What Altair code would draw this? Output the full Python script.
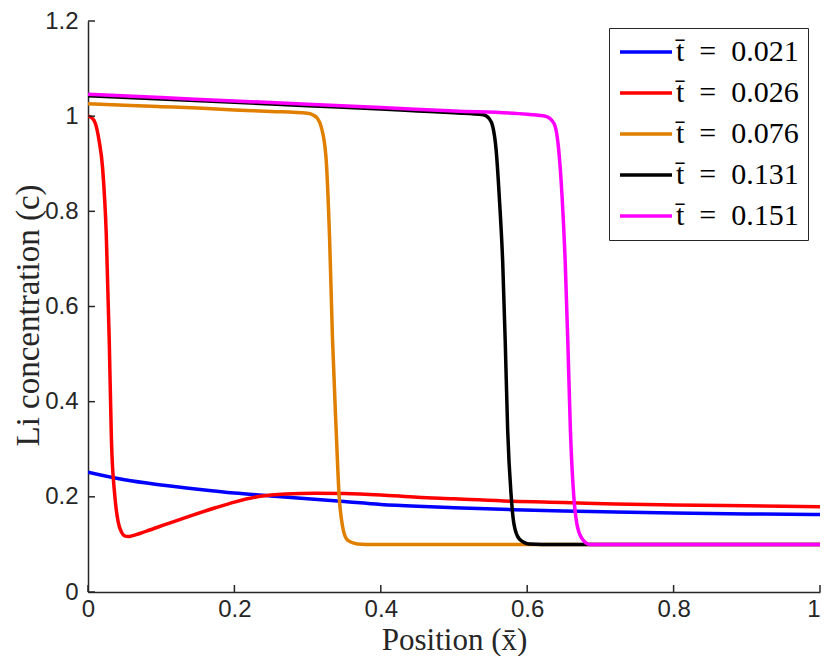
import altair as alt
import pandas as pd

# ---- data ----
labels = ["t\u0304\u2002=\u20020.021", "t\u0304\u2002=\u20020.026", "t\u0304\u2002=\u20020.076",
          "t\u0304\u2002=\u20020.131", "t\u0304\u2002=\u20020.151"]
colors = ["#0000ff", "#ff0000", "#e07f00", "#000000", "#ff00ff"]

blue_x = [0, 0.05, 0.1, 0.15, 0.2, 0.25, 0.3, 0.35, 0.4, 0.45, 0.5, 0.58, 0.65, 0.72, 0.8, 0.9, 1.0]
blue_y = [0.252, 0.236, 0.225, 0.216, 0.208, 0.202, 0.196, 0.190, 0.184, 0.180, 0.177, 0.173, 0.170, 0.168, 0.166, 0.164, 0.163]

red_x = [0, 0.005, 0.01, 0.015, 0.02, 0.025, 0.029, 0.032, 0.0365, 0.041, 0.046, 0.05, 0.055, 0.06,
         0.08, 0.106, 0.14, 0.174, 0.2, 0.233, 0.27, 0.31, 0.35, 0.4, 0.45, 0.5, 0.58, 0.65, 0.72, 0.8, 0.9, 1.0]
red_y = [1.0, 0.997, 0.985, 0.95, 0.89, 0.75, 0.53, 0.32, 0.204, 0.149, 0.125, 0.118, 0.1165, 0.118,
         0.128, 0.142, 0.16, 0.177, 0.189, 0.2005, 0.206, 0.2075, 0.207, 0.204, 0.199, 0.196, 0.1905, 0.188, 0.185, 0.183, 0.181, 0.179]

orange_x = [0, 0.05, 0.1, 0.15, 0.2, 0.25, 0.3, 0.308, 0.313, 0.3185, 0.325, 0.33, 0.334, 0.339, 0.343,
            0.348, 0.353, 0.359, 0.368, 0.38, 0.45, 0.6, 0.8, 1.0]
orange_y = [1.026, 1.023, 1.020, 1.017, 1.013, 1.010, 1.006, 1.002, 0.996, 0.978, 0.916, 0.745, 0.533, 0.341, 0.204,
            0.136, 0.112, 0.105, 0.101, 0.1, 0.1, 0.1, 0.1, 0.1]

black_x = [0, 0.1, 0.2, 0.3, 0.4, 0.45, 0.5, 0.54, 0.548, 0.553, 0.5575, 0.562, 0.5666, 0.570, 0.5733,
           0.578, 0.582, 0.589, 0.6026, 0.62, 0.8, 1.0]
black_y = [1.043, 1.036, 1.029, 1.022, 1.015, 1.011, 1.007, 1.003, 0.995, 0.978, 0.930, 0.827, 0.690, 0.526, 0.341,
           0.204, 0.142, 0.112, 0.101, 0.1, 0.1, 0.1]

magenta_x = [0, 0.1, 0.2, 0.3, 0.4, 0.5, 0.6, 0.625, 0.6365, 0.643, 0.6478, 0.652, 0.6555, 0.659, 0.6635,
             0.668, 0.675, 0.686, 0.7, 0.8, 1.0]
magenta_y = [1.046, 1.039, 1.032, 1.025, 1.018, 1.011, 1.004, 1.0, 0.985, 0.930, 0.827, 0.690, 0.526, 0.341, 0.204,
             0.142, 0.112, 0.1, 0.1, 0.1, 0.1]

x_ticks = [0, 0.2, 0.4, 0.6, 0.8, 1.0]
y_ticks = [0, 0.2, 0.4, 0.6, 0.8, 1.0, 1.2]

series = [(blue_x, blue_y), (red_x, red_y), (orange_x, orange_y), (black_x, black_y), (magenta_x, magenta_y)]
rows = []
for i, (xs, ys) in enumerate(series):
    for j, (xv, yv) in enumerate(zip(xs, ys)):
        rows.append({"x": xv, "c": yv, "series": labels[i], "order": i, "idx": j})
df = pd.DataFrame(rows)

W, H = 732, 571
AXC = "#262626"

xscale = alt.Scale(domain=[0, 1], nice=False, zero=False)
yscale = alt.Scale(domain=[0, 1.2], nice=False, zero=False)

lines = alt.Chart(df).mark_line(strokeWidth=3.5, interpolate="monotone", clip=True).encode(
    x=alt.X("x:Q", scale=xscale,
            axis=alt.Axis(values=x_ticks, format="~g", title="Position (x\u0304)", grid=False,
                          ticks=False, labelFlush=False, labelPadding=5,
                          labelAlign={"condition": {"test": "datum.value == 1", "value": "right"},
                                      "value": "center"},
                          titleY=57, titleBaseline="alphabetic", titleFontSize=31)),
    y=alt.Y("c:Q", scale=yscale,
            axis=alt.Axis(values=y_ticks, format="~g", title="Li concentration (c)", grid=False,
                          ticks=False, labelFlush=False, labelPadding=10, titleX=-50, titleY=294,
                          titleBaseline="alphabetic", titleFontSize=33)),
    color=alt.Color("series:N", sort=labels,
                    scale=alt.Scale(domain=labels, range=colors),
                    legend=alt.Legend(orient="none", legendX=521, legendY=7, title=None,
                                      symbolType="M-1,0H3", symbolSize=676, symbolStrokeWidth=3.5,
                                      labelFont="Liberation Serif", labelFontSize=30, labelColor="black",
                                      fillColor="white", strokeColor=AXC, padding=9, rowPadding=11,
                                      labelOffset=28)),
    detail="order:O",
    order="idx:Q",
)

xt = alt.Chart(pd.DataFrame({"v": x_ticks})).mark_rule(color=AXC, strokeWidth=1.5).encode(
    x=alt.X("v:Q", scale=xscale), y=alt.value(H), y2=alt.value(H - 7))
yt = alt.Chart(pd.DataFrame({"v": y_ticks})).mark_rule(color=AXC, strokeWidth=1.5).encode(
    y=alt.Y("v:Q", scale=yscale), x=alt.value(0), x2=alt.value(7))

chart = alt.layer(lines, xt, yt).properties(
    width=W, height=H,
    autosize=alt.AutoSizeParams(type="none"),
    padding={"left": 80, "top": 13, "right": 2, "bottom": 64},
).configure_view(stroke=None).configure_axis(
    domainColor=AXC, domainWidth=1.5, labelColor=AXC, labelFont="Liberation Sans", labelFontSize=24,
    titleFont="Liberation Serif", titleFontWeight="normal", titleColor=AXC,
)

chart.save("out.html", embed_options={"renderer": "svg", "actions": False})
